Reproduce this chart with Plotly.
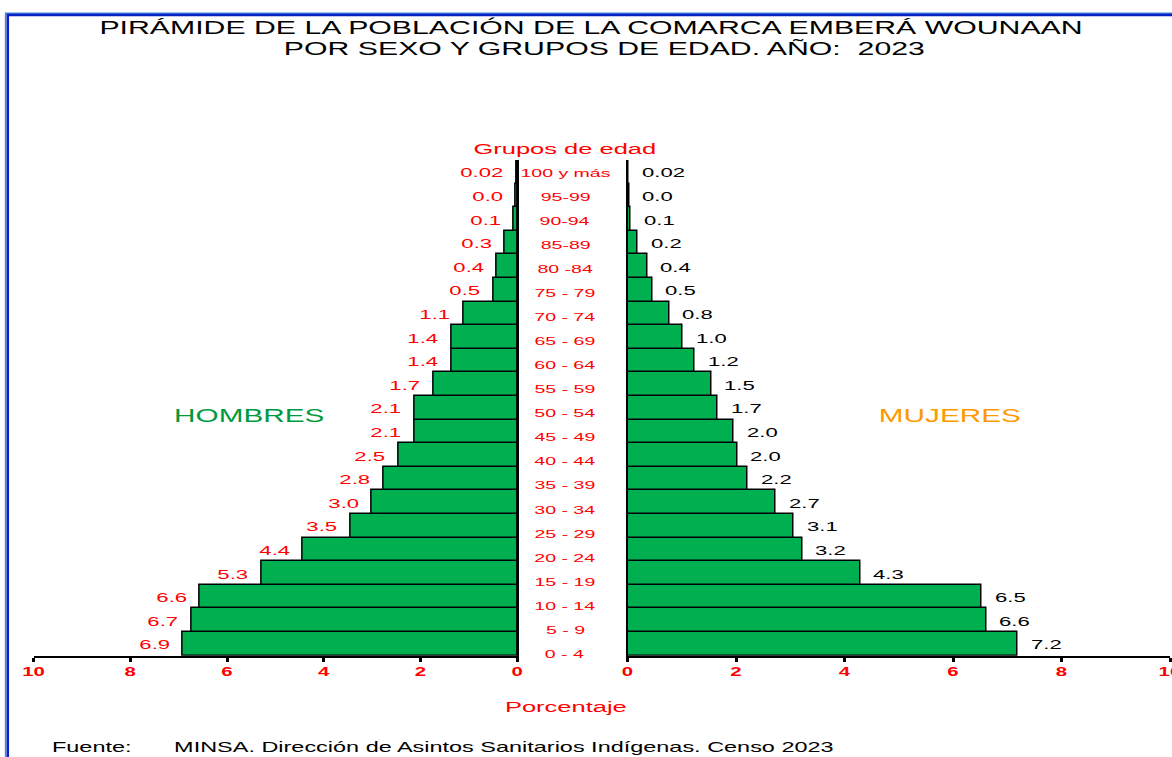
import plotly.graph_objects as go

# ---------------- data ----------------
ages = ["0 - 4", "5 - 9", "10 - 14", "15 - 19", "20 - 24", "25 - 29", "30 - 34",
        "35 - 39", "40 - 44", "45 - 49", "50 - 54", "55 - 59", "60 - 64", "65 - 69",
        "70 - 74", "75 - 79", "80 -84", "85-89", "90-94", "95-99", "100 y más"]

hombres = [6.92, 6.74, 6.57, 5.29, 4.44, 3.45, 3.01, 2.77, 2.46, 2.13, 2.13,
           1.74, 1.37, 1.37, 1.12, 0.50, 0.42, 0.26, 0.07, 0.03, 0.02]
hombres_lbl = ["6.9", "6.7", "6.6", "5.3", "4.4", "3.5", "3.0", "2.8", "2.5", "2.1", "2.1",
               "1.7", "1.4", "1.4", "1.1", "0.5", "0.4", "0.3", "0.1", "0.0", "0.02"]

mujeres = [7.19, 6.61, 6.53, 4.29, 3.22, 3.06, 2.73, 2.22, 2.02, 1.96, 1.66,
           1.54, 1.24, 1.02, 0.77, 0.46, 0.36, 0.19, 0.06, 0.03, 0.02]
mujeres_lbl = ["7.2", "6.6", "6.5", "4.3", "3.2", "3.1", "2.7", "2.2", "2.0", "2.0", "1.7",
               "1.5", "1.2", "1.0", "0.8", "0.5", "0.4", "0.2", "0.1", "0.0", "0.02"]

x_ticks = [0, 2, 4, 6, 8, 10]

title1 = "PIRÁMIDE DE LA POBLACIÓN DE LA COMARCA EMBERÁ WOUNAAN"
title2 = "POR SEXO Y GRUPOS DE EDAD. AÑO:  2023"
fuente_lbl = "Fuente:"
fuente_txt = "MINSA. Dirección de Asintos Sanitarios Indígenas. Censo 2023"

# ---------------- layout helpers ----------------
W, H = 1172, 757
FONT = "Liberation Sans, Arial, sans-serif"
GREEN = "#00B050"


def px(x):
    return x / W


def py(y):
    return 1 - y / H


fig = go.Figure()

bar_style = dict(color=GREEN, line=dict(color="black", width=1.5))
fig.add_trace(go.Bar(y=ages, x=hombres, orientation="h", xaxis="x", yaxis="y",
                     marker=bar_style, hoverinfo="skip", showlegend=False))
fig.add_trace(go.Bar(y=ages, x=mujeres, orientation="h", xaxis="x2", yaxis="y2",
                     marker=bar_style, hoverinfo="skip", showlegend=False))

xcommon = dict(
    tickmode="array", tickvals=x_ticks, ticktext=[str(v) for v in x_ticks],
    ticks="outside", ticklen=4, tickwidth=3, tickcolor="black",
    showline=True, linecolor="black", linewidth=2, automargin=False,
    showgrid=False, zeroline=False, fixedrange=True, ticklabeloverflow="allow",
    tickfont=dict(family=FONT, size=12, color="red", weight="bold"),
)

y_top, y_bot = 160.0, 655.7

annotations = []
# value labels
for cat, v, t in zip(ages, hombres, hombres_lbl):
    annotations.append(dict(x=v, y=cat, xref="x", yref="y", text=t, showarrow=False,
                            xanchor="right", yanchor="middle", align="right", xshift=-11, yshift=-1,
                            font=dict(family=FONT, size=13, color="red")))
for cat, v, t in zip(ages, mujeres, mujeres_lbl):
    annotations.append(dict(x=v, y=cat, xref="x2", yref="y2", text=t, showarrow=False,
                            xanchor="left", yanchor="middle", align="left", xshift=11, yshift=-1,
                            font=dict(family=FONT, size=13, color="black")))
# age group labels (middle column)
for i, cat in enumerate(ages):
    annotations.append(dict(x=px(565), y=i, xref="paper", yref="y3", text=cat, showarrow=False,
                            xanchor="center", yanchor="middle",
                            font=dict(family=FONT, size=11.5, color="red")))

texts = [
    (title1, 590.5, 27, 17.8, "black", "center"),
    (title2, 604.5, 48, 17.8, "black", "center"),
    ("Grupos de edad", 565, 148.5, 15, "red", "center"),
    ("HOMBRES", 249, 415.5, 17.5, "#009a3e", "center"),
    ("MUJERES", 950, 415.5, 17.5, "#FF9900", "center"),
    ("Porcentaje", 565.5, 706.5, 15, "red", "center"),
]
for txt, x, y, s, c, xa in texts:
    annotations.append(dict(x=px(x), y=py(y), xref="paper", yref="paper", text=txt,
                            showarrow=False, xanchor=xa, yanchor="middle",
                            font=dict(family=FONT, size=s, color=c)))
annotations.append(dict(x=px(50), y=0, xref="paper", yref="paper", text=fuente_lbl,
                        showarrow=False, xanchor="left", yanchor="bottom",
                        font=dict(family=FONT, size=13.8, color="black")))
annotations.append(dict(x=px(172), y=0, xref="paper", yref="paper", text=fuente_txt,
                        showarrow=False, xanchor="left", yanchor="bottom",
                        font=dict(family=FONT, size=13.8, color="black")))

shapes = [
    dict(type="rect", xref="paper", yref="paper", x0=px(5.6), x1=px(3000), y0=py(3000), y1=py(13.2),
         line=dict(color="#3d86d8", width=1.5), fillcolor="rgba(0,0,0,0)", layer="above"),
    dict(type="rect", xref="paper", yref="paper", x0=px(7.8), x1=px(3000), y0=py(3000), y1=py(15.0),
         line=dict(color="#0a1fc4", width=2.5), fillcolor="rgba(0,0,0,0)", layer="above"),
]

ycommon = dict(showticklabels=False, ticks="", showgrid=False, zeroline=False,
               fixedrange=True, automargin=False)

fig.update_layout(
    width=W, height=H, margin=dict(l=0, r=0, t=0, b=0, autoexpand=False),
    paper_bgcolor="white", plot_bgcolor="rgba(0,0,0,0)",
    bargap=0, showlegend=False,
    xaxis=dict(domain=[px(33.6), px(517.4)], range=[10, 0], anchor="y", **xcommon),
    xaxis2=dict(domain=[px(627.5), px(1170.0)], range=[0, 10], anchor="y2", **xcommon),
    yaxis=dict(domain=[py(y_bot), py(y_top)], type="category", categoryorder="array",
               categoryarray=ages, anchor="x", side="right", showline=True,
               linecolor="black", linewidth=1.5, **ycommon),
    yaxis2=dict(matches="y", anchor="x2", side="left", showline=True, linecolor="black",
                linewidth=1.5, type="category", categoryorder="array", categoryarray=ages,
                domain=[py(y_bot), py(y_top)], **ycommon),
    yaxis3=dict(domain=[py(666.0), py(160.5)], range=[-0.5, len(ages) - 0.5], anchor="x2",
                showline=False, **ycommon),
    annotations=annotations,
    shapes=shapes,
)

# Page: pin the figure to the viewport origin.
# The reference renders all lettering horizontally stretched; reproduce that with a scaleX.
post_js = """
document.documentElement.style.margin = '0';
document.documentElement.style.padding = '0';
document.documentElement.style.overflow = 'hidden';
document.body.style.margin = '0';
document.body.style.padding = '0';
document.body.style.overflow = 'hidden';
var gd = document.getElementById('{plot_id}');
gd.style.position = 'fixed';
gd.style.left = '0px';
gd.style.top = '0px';
var S = 1.7;
var anns = (gd._fullLayout && gd._fullLayout.annotations) || [];
function stretch(t, ox){
  var tr = t.getAttribute('transform') || '';
  t.setAttribute('transform', (tr + ' translate(' + ox + ',0) scale(' + S + ',1) translate(' + (-ox) + ',0)').trim());
}
gd.querySelectorAll('g.annotation').forEach(function(g){
  var i = parseInt(g.getAttribute('data-index'));
  var a = anns[i];
  var t = g.querySelector('text');
  if(!t) return;
  var bb = t.getBBox();
  var xa = a ? a.xanchor : 'center';
  var ox = xa === 'right' ? bb.x + bb.width : (xa === 'left' ? bb.x : bb.x + bb.width / 2);
  stretch(t, ox);
});
gd.querySelectorAll('g.xtick text, g.x2tick text').forEach(function(t){
  var bb = t.getBBox();
  stretch(t, bb.x + bb.width / 2);
});
"""

fig.write_html("out.html", post_script=post_js, config={"displayModeBar": False})
